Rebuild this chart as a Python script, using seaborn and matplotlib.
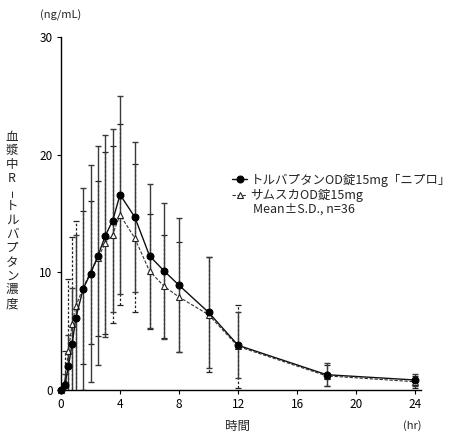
import matplotlib
matplotlib.use("Agg")
import matplotlib.pyplot as plt
import seaborn as sns
import pandas as pd
import numpy as np

time_hr = [0, 0.25, 0.5, 0.75, 1, 1.5, 2, 2.5, 3, 3.5, 4, 5, 6, 7, 8, 10, 12, 18, 24]
nipro_mean = [0.0, 0.4, 2.0, 3.9, 6.1, 8.6, 9.9, 11.4, 13.1, 14.4, 16.6, 14.7, 11.4, 10.1, 8.9, 6.6, 3.8, 1.3, 0.85]
nipro_sd = [0.0, 1.0, 2.7, 4.8, 7.1, 8.6, 9.2, 9.3, 8.6, 7.8, 8.4, 6.4, 6.1, 5.8, 5.7, 4.7, 2.8, 1.0, 0.55]
samsca_mean = [0.0, 0.7, 3.3, 5.6, 7.1, 8.7, 10.0, 11.2, 12.5, 13.2, 14.9, 12.9, 10.1, 8.8, 7.9, 6.4, 3.7, 1.2, 0.7]
samsca_sd = [0.0, 2.6, 6.1, 7.4, 7.3, 6.5, 6.1, 6.6, 7.7, 7.5, 7.7, 6.3, 4.9, 4.4, 4.7, 4.9, 3.5, 0.9, 0.5]

label_nipro = "トルバプタンOD錠15mg「ニプロ」"
label_samsca = "サムスカOD錠15mg"
note_text = "Mean±S.D., n=36"
ylabel_text = "血漿中R-トルバプタン濃度"
xlabel_text = "時間"
yunit_text = "(ng/mL)"
xunit_text = "(hr)"
x_ticks = [0, 4, 8, 12, 16, 20, 24]
y_ticks = [0, 10, 20, 30]

sns.set_theme(style="white")
plt.rcParams['font.family'] = ['Noto Sans CJK JP', 'DejaVu Sans']

df = pd.concat([
    pd.DataFrame({"time": time_hr, "conc": nipro_mean, "drug": label_nipro}),
    pd.DataFrame({"time": time_hr, "conc": samsca_mean, "drug": label_samsca}),
])

W, H = 450, 436
fig = plt.figure(figsize=(W / 100, H / 100), dpi=100)
ax = fig.add_axes([0.1356, 0.1055, 0.80, 0.8096])

# error bars
ax.errorbar(time_hr, samsca_mean, yerr=samsca_sd, fmt='none', ecolor='#222222',
            elinewidth=0.9, capsize=2.5, capthick=0.9, zorder=2)
ax.collections[0].set_linestyle((0, (2, 1.5)))
ax.errorbar(time_hr, nipro_mean, yerr=nipro_sd, fmt='none', ecolor='#3a3a3a',
            elinewidth=1.0, capsize=2.5, capthick=1.0, zorder=2)

sns.lineplot(data=df[df.drug == label_samsca], x="time", y="conc", ax=ax,
             color="#333333", linewidth=0.8, linestyle=(0, (3, 1.5)),
             marker="^", markersize=5, markerfacecolor="white",
             markeredgecolor="#222222", markeredgewidth=0.8,
             label=label_samsca, zorder=4, clip_on=False)
sns.lineplot(data=df[df.drug == label_nipro], x="time", y="conc", ax=ax,
             color="#111111", linewidth=1.0, marker="o", markersize=5,
             markerfacecolor="black", markeredgecolor="black",
             label=label_nipro, zorder=5, clip_on=False)

ax.set_xlim(0, 24.4)
ax.set_ylim(0, 30)
ax.set_xticks(x_ticks)
ax.set_yticks(y_ticks)
ax.set_xlabel("")
ax.set_ylabel("")
for s in ["top", "right"]:
    ax.spines[s].set_visible(False)
for s in ["left", "bottom"]:
    ax.spines[s].set_color("black")
    ax.spines[s].set_linewidth(1.0)
ax.tick_params(axis="both", direction="out", length=3, width=0.8, colors="black",
               labelsize=8.5, pad=3, left=True, bottom=True)

handles, labels = ax.get_legend_handles_labels()
order = [labels.index(label_nipro), labels.index(label_samsca)]
leg = ax.legend([handles[i] for i in order], [labels[i] for i in order],
                loc="upper left", bbox_to_anchor=(0.462, 0.628), frameon=False,
                fontsize=9, handlelength=1.2, handletextpad=0.25,
                labelspacing=0.2, borderaxespad=0)
fig.text(253 / W, 1 - 209 / H, note_text, fontsize=9, ha="left", va="center")

fig.text(40 / W, 1 - 15 / H, yunit_text, fontsize=8, ha="left", va="center")
fig.text(412 / W, 1 - 426 / H, xunit_text, fontsize=8, ha="center", va="center")
fig.text(238 / W, 1 - 426 / H, xlabel_text, fontsize=9, ha="center", va="center")

# vertical (stacked) y-axis label
y0, step = 137, 13.9
for i, ch in enumerate(ylabel_text):
    if ch == "-":
        fig.text(12 / W, 1 - (y0 + i * step) / H, ch, fontsize=17, ha="center",
                 va="center", rotation=90, family="DejaVu Sans",
                 fontweight="light")
    else:
        fig.text(12 / W, 1 - (y0 + i * step) / H, ch, fontsize=9, ha="center",
                 va="center")

fig.savefig("out.png", dpi=100)
